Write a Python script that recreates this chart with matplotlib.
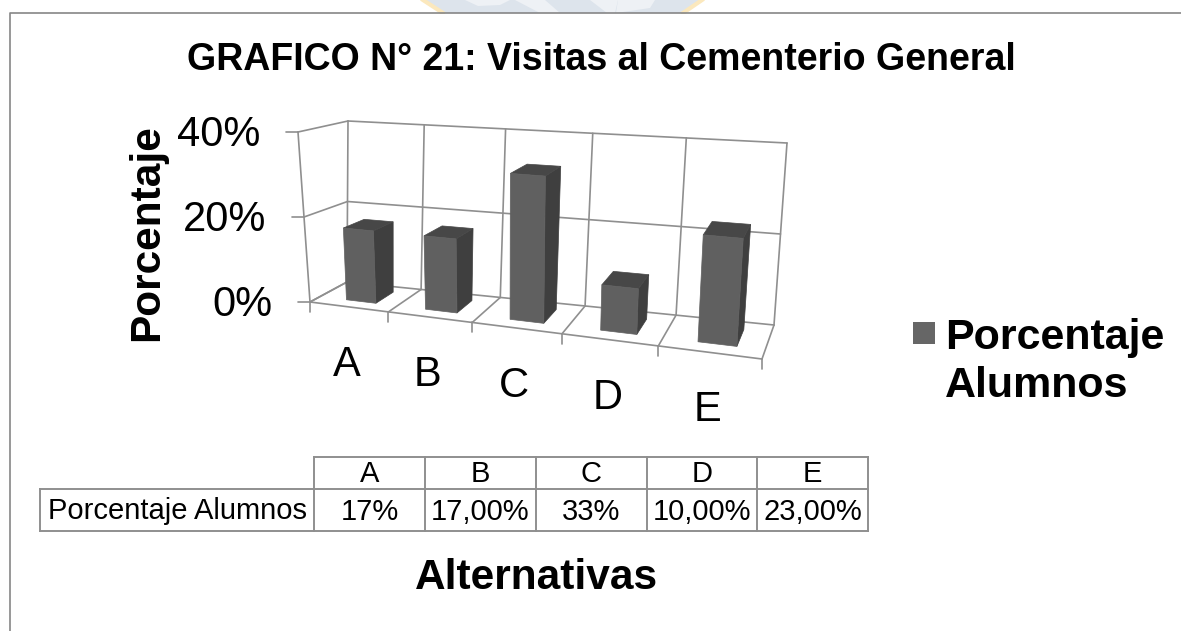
# -*- coding: utf-8 -*-
"""
grafico 21 - 3D looking column chart with data table, drawn on a pixel sized axes
"""
import numpy as np
import matplotlib
matplotlib.use('agg')
import matplotlib.pyplot as plt
from matplotlib.patches import Polygon, Rectangle

# data
categories = ['A', 'B', 'C', 'D', 'E']
valores = [17, 17, 33, 10, 23]
tabla_textos = ['17%', '17,00%', '33%', '10,00%', '23,00%']
y_ticks = [0, 20, 40]
y_tick_labels = ['0%', '20%', '40%']
serie = 'Porcentaje Alumnos'
titulo = 'GRAFICO N° 21: Visitas al Cementerio General'

W, H = 1181, 631
y_max = 40.0
GRIS = '#8f8f8f'
FRENTE, LADO, TAPA = '#606060', '#3f3f3f', '#474747'

plt.rcParams['font.family'] = ['Liberation Sans', 'DejaVu Sans']
fig = plt.figure(figsize=(W / 100, H / 100), dpi=100)
ax = fig.add_axes([0, 0, 1, 1])
ax.set_xlim(0, W)
ax.set_ylim(H, 0)
ax.axis('off')

# corners of the plot box on the picture: [u][d][h]
caja = np.array([
    [[[310, 302], [298, 132]], [[347, 282], [348, 121]]],
    [[[762, 359], [774, 167]], [[774, 325], [787, 143]]],
], dtype=float)


def proy(u, d, v):
    """ u along categories (0-5), d depth 0-1, v value in percent -> pixel """
    c = -0.16  # perspective along the x axis
    t = u / 5.0
    t = t * (1 + c) / (1 + c * t)
    h = v / y_max
    p = np.zeros(2)
    for i, wi in enumerate([1 - t, t]):
        for j, wj in enumerate([1 - d, d]):
            for k, wk in enumerate([1 - h, h]):
                p += wi * wj * wk * caja[i, j, k]
    return p


def linea(a, b, lw=1.2, color=GRIS, z=1):
    ax.plot([a[0], b[0]], [a[1], b[1]], color=color, lw=lw, zorder=z, solid_capstyle='round')


# watermark behind the frame
ax.add_patch(Polygon([(423, 0), (443, 13), (683, 13), (702, 0)], fc='#dde4ec', ec='none', zorder=0))
ax.plot([423, 443], [0, 13], color='#fbe8bd', lw=3, zorder=0)
ax.plot([702, 683], [0, 13], color='#fbe8bd', lw=3, zorder=0)
ax.add_patch(Polygon([(465, 0), (478, 6), (500, 5), (510, 0)], fc='#eef1f5', ec='none', zorder=0))
ax.add_patch(Polygon([(515, 0), (540, 13), (560, 13), (545, 0)], fc='#eef1f5', ec='none', zorder=0))
ax.add_patch(Polygon([(590, 0), (607, 13), (615, 13), (618, 0)], fc='#eef1f5', ec='none', zorder=0))
ax.add_patch(Polygon([(618, 0), (616, 13), (650, 8), (655, 0)], fc='#eef1f5', ec='none', zorder=0))

# chart frame
ax.add_patch(Rectangle((0, 14), W, H, fc='white', ec='none', zorder=0.5))
ax.plot([10, 10, W], [H, 13, 13], color='#868686', lw=1.2, zorder=1)

# walls and floor
for v in y_ticks:
    linea(proy(0, 0, v), proy(0, 1, v))
    linea(proy(0, 1, v), proy(5, 1, v))
    p = proy(0, 0, v)
    linea(p, p + [-12, 0])
for i in range(6):
    linea(proy(i, 1, 0), proy(i, 1, y_max))
    linea(proy(i, 0, 0), proy(i, 1, 0))
    p = proy(i, 0, 0)
    linea(p, p + [0, 10])
linea(proy(0, 0, 0), proy(5, 0, 0))
linea(proy(0, 0, 0), proy(0, 0, y_max))

# columns
ancho = 0.19
for i, v in enumerate(valores):
    u0, u1 = i + 0.54 - ancho, i + 0.54 + ancho
    d0, d1 = 0.27, 0.78
    lado = [proy(u1, d0, 0), proy(u1, d1, 0), proy(u1, d1, v), proy(u1, d0, v)]
    tapa = [proy(u0, d0, v), proy(u1, d0, v), proy(u1, d1, v), proy(u0, d1, v)]
    frente = [proy(u0, d0, 0), proy(u1, d0, 0), proy(u1, d0, v), proy(u0, d0, v)]
    ax.add_patch(Polygon(lado, fc=LADO, ec=LADO, lw=0.5, zorder=3))
    ax.add_patch(Polygon(tapa, fc=TAPA, ec=TAPA, lw=0.5, zorder=3))
    ax.add_patch(Polygon(frente, fc=FRENTE, ec=FRENTE, lw=0.5, zorder=4))

# axis text
for v, lab in zip(y_ticks, y_tick_labels):
    p = proy(0, 0, v)
    ax.text(p[0] - 38, p[1] + 3, lab, ha='right', va='center', fontsize=30, color='black')
for i, lab in enumerate(categories):
    p = proy(i + 0.5, 0, 0)
    ax.text(p[0] - 2, p[1] + 58, lab, ha='center', va='center', fontsize=30, color='black')

ax.text(601, 60, titulo, ha='center', va='center', fontsize=27, fontweight='bold')
ax.text(147, 233, 'Porcentaje', rotation=90, ha='center', va='center', fontsize=30.5, fontweight='bold')
ax.text(536, 578, 'Alternativas', ha='center', va='center', fontsize=30.5, fontweight='bold')

# legend
ax.add_patch(Rectangle((913, 322), 22, 22, fc='#666666', ec='none'))
ax.text(945, 338, 'Porcentaje', ha='left', va='center', fontsize=31, fontweight='bold')
ax.text(945, 386, 'Alumnos', ha='left', va='center', fontsize=31, fontweight='bold')

# data table
col_x = [314, 425, 536, 647, 757, 868]
fila_y = [457, 489, 531]
ax.plot([col_x[0], col_x[-1]], [fila_y[0], fila_y[0]], color=GRIS, lw=1.4)
ax.plot([40, col_x[-1]], [fila_y[1], fila_y[1]], color=GRIS, lw=1.4)
ax.plot([40, col_x[-1]], [fila_y[2], fila_y[2]], color=GRIS, lw=1.4)
ax.plot([40, 40], [fila_y[1], fila_y[2]], color=GRIS, lw=1.4)
for x in col_x:
    ax.plot([x, x], [fila_y[0], fila_y[2]], color=GRIS, lw=1.4)
for i in range(5):
    xc = (col_x[i] + col_x[i + 1]) / 2
    ax.text(xc, 474, categories[i], ha='center', va='center', fontsize=21)
    ax.text(xc, 512, tabla_textos[i], ha='center', va='center', fontsize=21)
ax.text(177, 511, serie, ha='center', va='center', fontsize=21)

plt.savefig('out.png', dpi=100)
